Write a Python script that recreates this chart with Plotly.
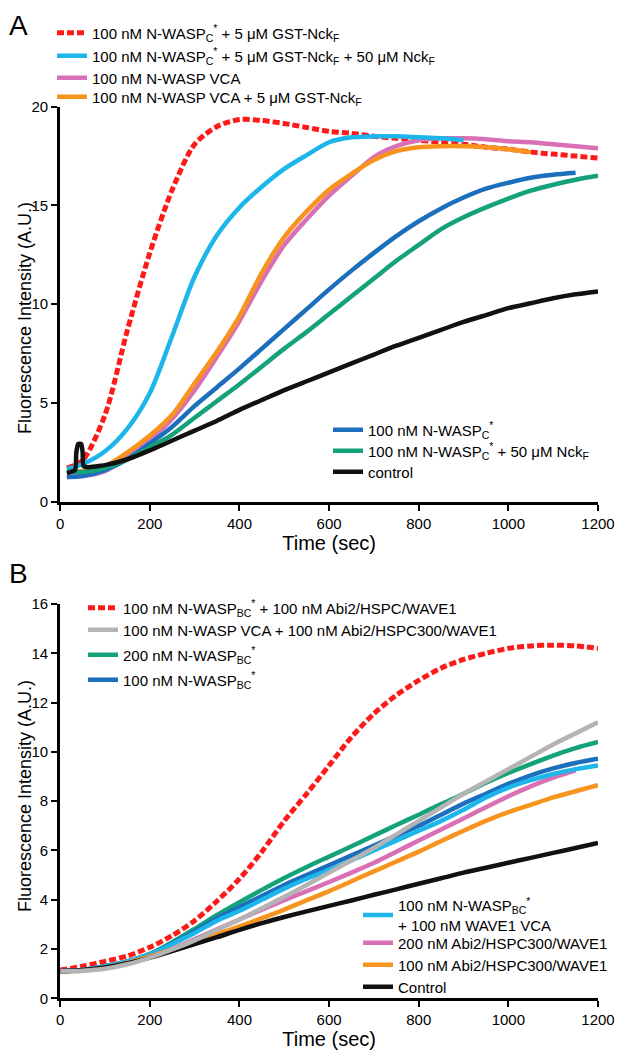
import plotly.graph_objects as go

# ---------------- Panel A data ----------------
A_time = [15, 50, 100, 150, 200, 250, 300, 350, 400, 450, 500, 550, 600, 650,
          700, 750, 800, 850, 900, 950, 1000, 1050, 1100, 1150, 1200]
A_red = [1.7, 2.1, 4.4, 8.7, 12.6, 15.8, 18.1, 19.0, 19.35, 19.3, 19.15, 18.95, 18.75,
         18.65, 18.5, 18.4, 18.3, 18.2, 18.1, 17.95, 17.85, 17.7, 17.6, 17.5, 17.4]
A_cyan = [1.65, 1.9, 2.55, 3.7, 5.5, 8.4, 11.4, 13.5, 14.9, 15.95, 16.85, 17.55, 18.2,
          18.45, 18.5, 18.5, 18.45, 18.4, 18.3]
A_pink = [1.25, 1.3, 1.55, 2.3, 3.15, 4.2, 5.65, 7.35, 9.15, 11.2, 13.0, 14.3, 15.5,
          16.5, 17.45, 18.0, 18.3, 18.4, 18.4, 18.35, 18.25, 18.2, 18.1, 18.0, 17.9]
A_orange = [1.5, 1.55, 1.8, 2.5, 3.35, 4.4, 6.0, 7.6, 9.4, 11.6, 13.4, 14.7, 15.8,
            16.6, 17.3, 17.75, 17.95, 18.0, 18.0, 17.95, 17.85, 17.7]
A_blue = [1.25, 1.3, 1.6, 2.15, 2.95, 3.8, 4.85, 5.8, 6.75, 7.75, 8.75, 9.75, 10.75,
          11.7, 12.6, 13.45, 14.2, 14.85, 15.4, 15.85, 16.15, 16.4, 16.55, 16.65]
A_green = [1.55, 1.5, 1.7, 2.15, 2.75, 3.4, 4.25, 5.1, 5.95, 6.85, 7.75, 8.6, 9.5,
           10.4, 11.3, 12.2, 13.0, 13.8, 14.4, 14.9, 15.35, 15.75, 16.05, 16.3, 16.5]
A_black_time = [15, 33, 36, 40, 47, 50, 52, 60, 100, 150, 200, 250, 300, 350, 400, 450,
                500, 550, 600, 650, 700, 750, 800, 850, 900, 950, 1000, 1050, 1100,
                1150, 1200]
A_black = [1.45, 1.6, 2.5, 2.92, 2.92, 2.5, 1.8, 1.75, 1.85, 2.15, 2.6, 3.1, 3.6, 4.1,
           4.65, 5.15, 5.65, 6.1, 6.55, 7.0, 7.45, 7.9, 8.3, 8.7, 9.1, 9.45, 9.8, 10.05,
           10.3, 10.5, 10.65]

# ---------------- Panel B data ----------------
B_time = [0, 50, 100, 150, 200, 250, 300, 350, 400, 450, 500, 550, 600, 650, 700,
          750, 800, 850, 900, 950, 1000, 1050, 1100, 1150, 1200]
B_red = [1.15, 1.3, 1.5, 1.72, 2.07, 2.55, 3.15, 3.95, 4.85, 5.95, 7.2, 8.3, 9.45,
         10.6, 11.55, 12.3, 12.9, 13.4, 13.75, 14.0, 14.2, 14.3, 14.33, 14.3, 14.2]
B_grey = [1.1, 1.12, 1.2, 1.38, 1.65, 1.98, 2.35, 2.78, 3.2, 3.65, 4.12, 4.6, 5.1,
          5.6, 6.1, 6.65, 7.2, 7.75, 8.3, 8.8, 9.3, 9.8, 10.3, 10.75, 11.2]
B_green = [1.1, 1.15, 1.3, 1.5, 1.8, 2.28, 2.82, 3.38, 3.9, 4.4, 4.88, 5.33, 5.75,
           6.17, 6.6, 7.03, 7.45, 7.88, 8.3, 8.75, 9.15, 9.5, 9.85, 10.15, 10.4]
B_blue = [1.1, 1.15, 1.3, 1.5, 1.78, 2.22, 2.72, 3.25, 3.7, 4.15, 4.6, 5.0, 5.4,
          5.8, 6.2, 6.6, 7.0, 7.45, 7.9, 8.3, 8.7, 9.05, 9.33, 9.55, 9.72]
B_cyan = [1.1, 1.15, 1.3, 1.5, 1.78, 2.2, 2.65, 3.15, 3.55, 4.0, 4.45, 4.85, 5.2,
          5.6, 6.0, 6.4, 6.8, 7.2, 7.65, 8.15, 8.55, 8.85, 9.1, 9.3, 9.45]
B_pink = [1.1, 1.15, 1.3, 1.45, 1.68, 2.0, 2.4, 2.8, 3.2, 3.6, 3.98, 4.35, 4.72,
          5.1, 5.5, 5.95, 6.4, 6.85, 7.3, 7.75, 8.2, 8.6, 8.95, 9.25]
B_orange = [1.1, 1.12, 1.25, 1.45, 1.7, 1.98, 2.3, 2.6, 2.92, 3.25, 3.6, 3.98, 4.35,
            4.75, 5.15, 5.55, 5.95, 6.38, 6.8, 7.2, 7.55, 7.85, 8.15, 8.4, 8.65]
B_black = [1.1, 1.15, 1.25, 1.42, 1.65, 1.92, 2.2, 2.48, 2.78, 3.05, 3.3, 3.53, 3.75,
           3.97, 4.2, 4.42, 4.65, 4.87, 5.1, 5.3, 5.5, 5.7, 5.9, 6.1, 6.3]

x_ticks = [0, 200, 400, 600, 800, 1000, 1200]
A_yticks = [0, 5, 10, 15, 20]
B_yticks = [0, 2, 4, 6, 8, 10, 12, 14, 16]

RED = "#ff1a1a"
CYAN = "#1cb6ea"
PINK = "#d96fb5"
ORANGE = "#f7941d"
BLUE = "#1b6fbd"
GREEN = "#14a27a"
BLACK = "#111111"
GREY = "#b4b4b4"

FONT = "Liberation Sans, Arial, Helvetica, sans-serif"
W, H = 633, 1050

fig = go.Figure()
legends = {}
counter = [0]


def add(x, y, name, color, xa, ya, lx, ly, dash=None, width=4.5, smoothing=0.8):
    """lx: pixel x where legend text starts; ly: pixel y of legend row centre."""
    counter[0] += 1
    key = "legend" if counter[0] == 1 else "legend%d" % counter[0]
    legends[key] = dict(x=(lx - 40) / W, y=1 - ly / H, xanchor="left", yanchor="middle",
                        bgcolor="rgba(0,0,0,0)", borderwidth=0, font=dict(size=15),
                        visible=True)
    line = dict(color=color, width=width, shape="spline", smoothing=smoothing)
    if dash:
        line["dash"] = dash
    fig.add_trace(go.Scatter(x=x, y=y, mode="lines", name=name, line=line,
                             xaxis=xa, yaxis=ya, legend=key, showlegend=True))


# Panel A traces (draw order)
add(A_time[:len(A_red)], A_red, "100 nM N-WASP<sub>C</sub><sup>*</sup> + 5 μM GST-Nck<sub>F</sub>",
    RED, "x", "y", 92, 33, dash="7px,3px", width=5)
add(A_time[:len(A_pink)], A_pink, "100 nM N-WASP VCA", PINK, "x", "y", 92, 78)
add(A_time[:len(A_orange)], A_orange, "100 nM N-WASP VCA + 5 μM GST-Nck<sub>F</sub>",
    ORANGE, "x", "y", 92, 97)
add(A_time[:len(A_cyan)], A_cyan,
    "100 nM N-WASP<sub>C</sub><sup>*</sup> + 5 μM GST-Nck<sub>F</sub> + 50 μM Nck<sub>F</sub>",
    CYAN, "x", "y", 92, 56)
add(A_time[:len(A_blue)], A_blue, "100 nM N-WASP<sub>C</sub><sup>*</sup>", BLUE,
    "x", "y", 368, 430)
add(A_time[:len(A_green)], A_green, "100 nM N-WASP<sub>C</sub><sup>*</sup> + 50 μM Nck<sub>F</sub>",
    GREEN, "x", "y", 368, 451)
add(A_black_time, A_black, "control", BLACK, "x", "y", 368, 472, smoothing=0.5)

# Panel B traces
add(B_time, B_red, "100 nM N-WASP<sub>BC</sub><sup>*</sup> + 100 nM Abi2/HSPC/WAVE1",
    RED, "x2", "y2", 123, 608, dash="7px,3px", width=5)
add(B_time, B_green, "200 nM N-WASP<sub>BC</sub><sup>*</sup>", GREEN, "x2", "y2", 123, 655)
add(B_time, B_blue, "100 nM N-WASP<sub>BC</sub><sup>*</sup>", BLUE, "x2", "y2", 123, 680)
add(B_time[:len(B_pink)], B_pink, "200 nM Abi2/HSPC300/WAVE1", PINK, "x2", "y2", 398, 943)
add(B_time, B_cyan, "100 nM N-WASP<sub>BC</sub><sup>*</sup><br>+ 100 nM WAVE1 VCA",
    CYAN, "x2", "y2", 398, 915)
add(B_time, B_orange, "100 nM Abi2/HSPC300/WAVE1", ORANGE, "x2", "y2", 398, 965)
add(B_time, B_black, "Control", BLACK, "x2", "y2", 398, 987)
add(B_time, B_grey, "100 nM N-WASP VCA + 100 nM Abi2/HSPC300/WAVE1", GREY,
    "x2", "y2", 123, 630)

axis_common = dict(showline=True, linewidth=3, linecolor="black", ticks="outside",
                   ticklen=6, tickwidth=2, tickcolor="black", showgrid=False,
                   zeroline=False, automargin=False,
                   tickfont=dict(size=15, color="black", family=FONT))

XDOM = [60.2 / W, 598 / W]

fig.update_layout(
    width=W, height=H,
    showlegend=True,
    margin=dict(l=0, r=0, t=0, b=0),
    paper_bgcolor="white", plot_bgcolor="white",
    font=dict(family=FONT, color="black", size=15),
    xaxis=dict(domain=XDOM, range=[0, 1200], tickvals=x_ticks, anchor="y",
               title=dict(text="Time (sec)", font=dict(size=20), standoff=4), **axis_common),
    yaxis=dict(domain=[(H - 501.7) / H, (H - 106.7) / H], range=[0, 20],
               tickvals=A_yticks, anchor="x", **axis_common),
    xaxis2=dict(domain=XDOM, range=[0, 1200], tickvals=x_ticks, anchor="y2",
                title=dict(text="Time (sec)", font=dict(size=20), standoff=4), **axis_common),
    yaxis2=dict(domain=[(H - 998.3) / H, (H - 604) / H], range=[0, 16],
                tickvals=B_yticks, anchor="x2", **axis_common),
    annotations=[
        dict(text="A", x=7 / W, y=1 - 8 / H, xref="paper", yref="paper",
             xanchor="left", yanchor="top", showarrow=False, font=dict(size=28)),
        dict(text="B", x=7 / W, y=1 - 556 / H, xref="paper", yref="paper",
             xanchor="left", yanchor="top", showarrow=False, font=dict(size=28)),
        dict(text="Fluorescence Intensity (A.U.)", x=25 / W, y=1 - 318 / H,
             xref="paper", yref="paper", xanchor="center", yanchor="middle",
             textangle=-90, showarrow=False, font=dict(size=18)),
        dict(text="Fluorescence Intensity (A.U.)", x=25 / W, y=1 - 796 / H,
             xref="paper", yref="paper", xanchor="center", yanchor="middle",
             textangle=-90, showarrow=False, font=dict(size=18)),
    ],
    **legends,
)

fig.write_html("out.html", config={"displayModeBar": False},
               post_script="document.body.style.margin='0px';")
